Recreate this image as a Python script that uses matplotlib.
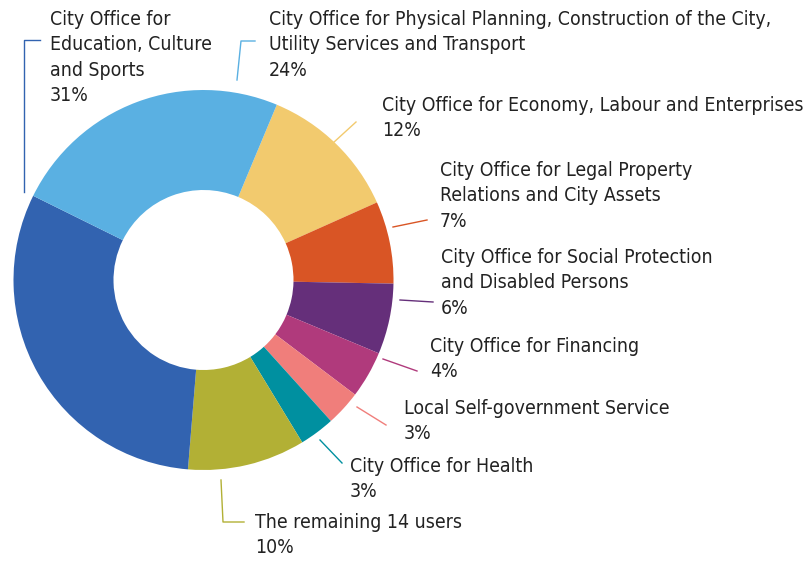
import matplotlib
matplotlib.use("Agg")
import matplotlib.pyplot as plt
from matplotlib import font_manager

# slices, clockwise starting from the top right
labels = [
    ["City Office for Economy, Labour and Enterprises"],
    ["City Office for Legal Property", "Relations and City Assets"],
    ["City Office for Social Protection", "and Disabled Persons"],
    ["City Office for Financing"],
    ["Local Self-government Service"],
    ["City Office for Health"],
    ["The remaining 14 users"],
    ["City Office for", "Education, Culture", "and Sports"],
    ["City Office for Physical Planning, Construction of the City,", "Utility Services and Transport"],
]
shares = [12, 7, 6, 4, 3, 3, 10, 31, 24]
colors = ["#F2CA6E", "#D95525", "#652F7A", "#B03A7C", "#F07E7B",
          "#0090A0", "#B2B035", "#3263B0", "#5AB0E2"]

# prefer a condensed face, the reference uses a narrow humanist sans
cond = [f.fname for f in font_manager.fontManager.ttflist
        if ("Condensed" in f.fname or "Narrow" in f.fname)
        and "Bold" not in f.fname and "Oblique" not in f.fname
        and "Italic" not in f.fname]
cond.sort(key=lambda p: ("DejaVuSans" not in p, p))
if cond:
    fp = font_manager.FontProperties(fname=cond[0])
else:
    fp = font_manager.FontProperties(family="Roboto")

H = 561
fig = plt.figure(figsize=(8.1, 5.61), dpi=100)
ax = fig.add_axes([0, 0, 1, 1])

cx, cy, r = 203.5, H - 280, 190
ax.pie(shares, colors=colors, startangle=67.3, counterclock=False,
       center=(cx, cy), radius=r, wedgeprops=dict(width=100, linewidth=0),
       frame=True)
ax.set_xlim(0, 810)
ax.set_ylim(0, H)
ax.axis("off")

# fit font size so the widest single line matches the reference width
renderer = fig.canvas.get_renderer()
probe = ax.text(0, 0, labels[0][0], fontproperties=fp, fontsize=15)
w = probe.get_window_extent(renderer).width
probe.remove()
fs = min(15 * 423 / w, 15.5)

# label text positions (left x, first line y) and leader lines in pixels
text_pos = [(382, 105), (440, 170), (441, 257), (430, 346), (404, 408),
            (350, 466), (255, 522), (50, 19), (269, 19)]
leaders = [
    [(333, 143), (356, 122)],
    [(393, 227), (427, 220)],
    [(400, 300), (433, 302)],
    [(383, 359), (417, 371)],
    [(357, 407), (386, 425)],
    [(320, 440), (342, 463)],
    [(221, 480), (223, 522), (244, 522)],
    [(24, 192), (24, 40), (40, 40)],
    [(237, 80), (241, 41), (255, 41)],
]
step = 25.5
for lines, pct, (tx, ty), pts, col in zip(labels, shares, text_pos, leaders, colors):
    for i, s in enumerate(lines + [f"{pct}%"]):
        ax.text(tx, H - (ty + i * step), s, fontproperties=fp, fontsize=fs,
                color="#222222", ha="left", va="center")
    xs = [p[0] for p in pts]
    ys = [H - p[1] for p in pts]
    ax.plot(xs, ys, color=col, lw=1)

fig.savefig("out.png", dpi=100)
